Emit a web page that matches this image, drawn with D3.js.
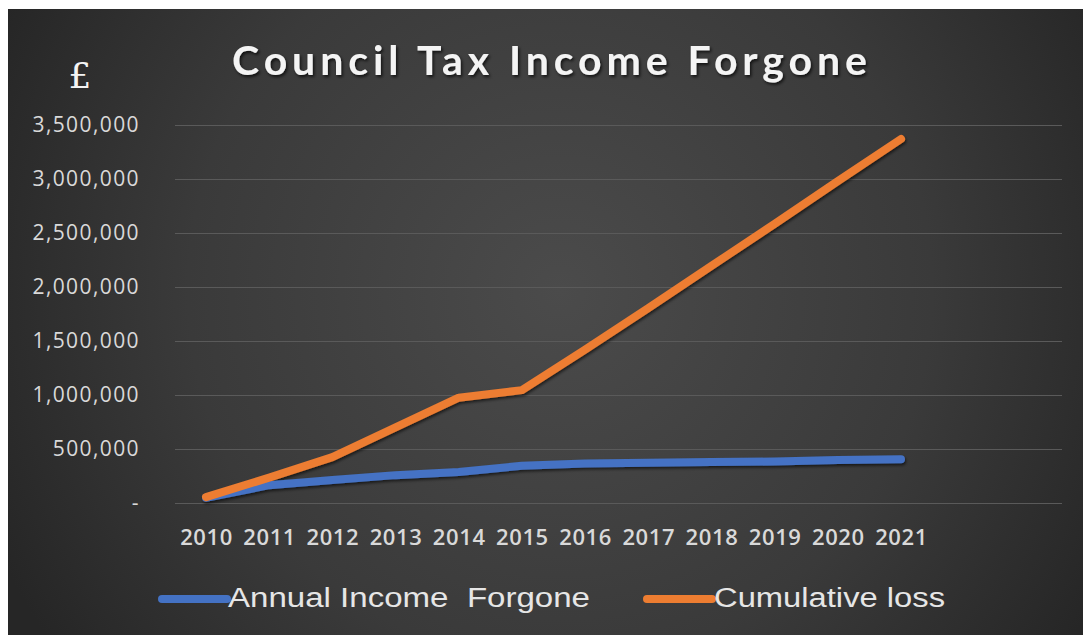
<!DOCTYPE html>
<html>
<head>
<meta charset="utf-8">
<script src="https://cdn.jsdelivr.net/npm/d3@7"></script>
<style>
  body { margin: 0; background: #ffffff; }
  .axis text { font-family: "Open Sans", sans-serif; fill: #d9d9d9; }
</style>
</head>
<body>
<div id="chart"></div>
<script>
// values
const years = ["2010", "2011", "2012", "2013", "2014", "2015", "2016", "2017", "2018", "2019", "2020", "2021"];
const annualIncomeForgone = [48000, 165000, 212000, 258000, 287000, 345000, 365000, 372000, 380000, 384000, 397000, 405000];
const cumulativeLoss = [55000, 235000, 425000, 700000, 975000, 1045000, 1420000, 1805000, 2195000, 2585000, 2980000, 3370000];
const yTicks = [0, 500000, 1000000, 1500000, 2000000, 2500000, 3000000, 3500000];
const seriesNames = ["Annual Income  Forgone", "Cumulative loss"];
const seriesColors = ["#4472c4", "#ed7d31"];

class LineChart {
	constructor(){
		this.width = 1083;
		this.height = 635;
		// plot area, in page pixels
		this.plot = {left: 175, right: 1062, top: 125, bottom: 503};
		this.initVis();
	}

	initVis() {
		let vis = this;

		vis.svg = d3.select("#chart")
			.append("svg")
			  .attr("width", vis.width)
			  .attr("height", vis.height);

		let defs = vis.svg.append("defs");

		let grad = defs.append("radialGradient")
			.attr("id", "bg")
			.attr("gradientUnits", "userSpaceOnUse")
			.attr("cx", 560).attr("cy", 290).attr("r", 620);
		grad.append("stop").attr("offset", "0%").attr("stop-color", "#4b4b4b");
		grad.append("stop").attr("offset", "60%").attr("stop-color", "#3a3a3a");
		grad.append("stop").attr("offset", "100%").attr("stop-color", "#262626");

		let shadow = defs.append("filter").attr("id", "shadow")
			.attr("x", "-10%").attr("y", "-20%").attr("width", "120%").attr("height", "160%");
		shadow.append("feDropShadow")
			.attr("dx", 1.5).attr("dy", 2).attr("stdDeviation", 1.5)
			.attr("flood-color", "#000").attr("flood-opacity", 0.7);

		let lineShadow = defs.append("filter").attr("id", "lineShadow")
			.attr("x", "-5%").attr("y", "-5%").attr("width", "110%").attr("height", "110%");
		lineShadow.append("feDropShadow")
			.attr("dx", 1).attr("dy", 2).attr("stdDeviation", 1.5)
			.attr("flood-color", "#000").attr("flood-opacity", 0.6);

		// background panel
		vis.svg.append("rect")
			.attr("x", 8).attr("y", 9)
			.attr("width", vis.width - 8).attr("height", vis.height - 9)
			.attr("fill", "url(#bg)");

		vis.xScale = d3.scalePoint()
			.domain(years)
			.range([206, 901]);

		vis.yScale = d3.scaleLinear()
			.domain([0, 3500000])
			.range([vis.plot.bottom, vis.plot.top]);

		vis.yAxis = d3.axisLeft(vis.yScale)
			.tickValues(yTicks)
			.tickSizeInner(-(vis.plot.right - vis.plot.left))
			.tickSizeOuter(0)
			.tickPadding(35)
			.tickFormat(d => d === 0 ? "-" : d3.format(",")(d));

		vis.xAxis = d3.axisBottom(vis.xScale)
			.tickSize(0)
			.tickPadding(26);

		// title and unit
		vis.svg.append("text")
			.attr("x", 232).attr("y", 75)
			.attr("textLength", 635)
			.attr("lengthAdjust", "spacing")
			.attr("filter", "url(#shadow)")
			.style("font-family", "Lato, 'Open Sans', sans-serif")
			.style("font-weight", "bold")
			.style("font-size", "41px")
			.style("fill", "#f4f4f4")
			.text("Council Tax Income Forgone");

		vis.svg.append("text")
			.attr("x", 80).attr("y", 88)
			.attr("text-anchor", "middle")
			.style("font-family", "'DejaVu Serif', serif")
			.style("font-size", "36px")
			.style("fill", "#f4f4f4")
			.text("£");

		vis.yAxisG = vis.svg.append("g")
			.attr("class", "axis y-axis")
			.attr("transform", `translate(${vis.plot.left},0)`);

		vis.xAxisG = vis.svg.append("g")
			.attr("class", "axis x-axis")
			.attr("transform", `translate(0,${vis.plot.bottom})`);

		vis.lines = vis.svg.append("g").attr("filter", "url(#lineShadow)");
		vis.legend = vis.svg.append("g");

		vis.renderVis();
	}

	renderVis(){
		let vis = this;

		vis.yAxisG.call(vis.yAxis);
		vis.yAxisG.select(".domain").remove();
		vis.yAxisG.selectAll(".tick line")
			.attr("stroke", "#5a5a5a")
			.attr("stroke-width", 1.2);
		vis.yAxisG.selectAll(".tick text")
			.style("font-size", "21px")
			.style("letter-spacing", "1.4px");

		vis.xAxisG.call(vis.xAxis);
		vis.xAxisG.select(".domain").remove();
		vis.xAxisG.selectAll(".tick text")
			.style("font-size", "22px")
			.style("font-weight", "600")
			.style("letter-spacing", "0.6px");

		let line = d3.line()
			.x((d, i) => vis.xScale(years[i]))
			.y(d => vis.yScale(d));

		vis.lines.selectAll("path")
			.data([annualIncomeForgone, cumulativeLoss])
			.join("path")
			.attr("d", line)
			.attr("fill", "none")
			.attr("stroke", (d, i) => seriesColors[i])
			.attr("stroke-width", 8)
			.attr("stroke-linejoin", "round")
			.attr("stroke-linecap", "round");

		// legend
		let legendX = [[162, 227, 228, 362], [647, 712, 714, 231]];
		let items = vis.legend.selectAll("g")
			.data(seriesNames)
			.join("g");

		items.append("line")
			.attr("x1", (d, i) => legendX[i][0])
			.attr("x2", (d, i) => legendX[i][1])
			.attr("y1", 599).attr("y2", 599)
			.attr("stroke", (d, i) => seriesColors[i])
			.attr("stroke-width", 8)
			.attr("stroke-linecap", "round");

		items.append("text")
			.attr("x", (d, i) => legendX[i][2])
			.attr("y", 607)
			.attr("textLength", (d, i) => legendX[i][3])
			.attr("lengthAdjust", "spacingAndGlyphs")
			.style("font-family", "'Liberation Sans', Arial, sans-serif")
			.style("font-size", "27px")
			.style("fill", "#e6e6e6")
			.style("white-space", "pre")
			.text(d => d);
	}
}

new LineChart();
</script>
</body>
</html>
